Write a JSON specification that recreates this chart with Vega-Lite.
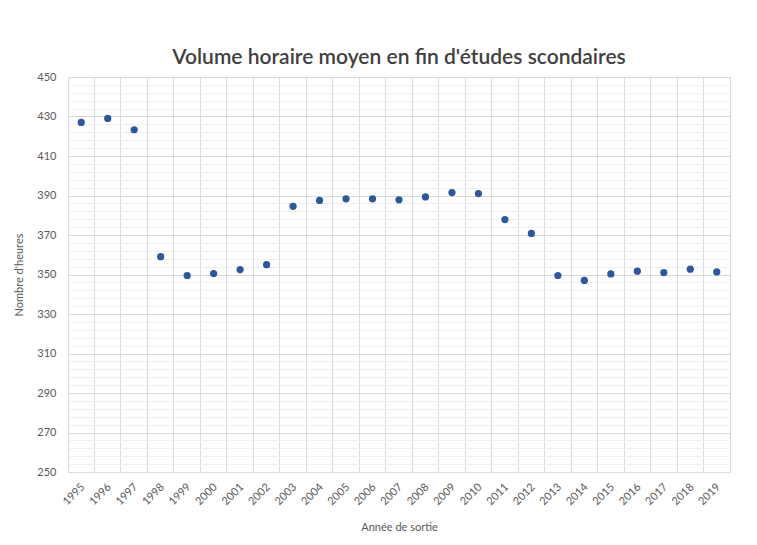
{
  "$schema": "https://vega.github.io/schema/vega-lite/v6.json",
  "autosize": "none",
  "width": 662,
  "height": 395,
  "padding": {"left": 68, "top": 77, "right": 27, "bottom": 73},
  "background": "#ffffff",
  "title": {
    "text": "Volume horaire moyen en fin d'études scondaires",
    "font": "Lato",
    "fontSize": 21,
    "fontWeight": 600,
    "color": "#404040",
    "anchor": "middle",
    "offset": 3
  },
  "config": {
    "view": {"stroke": "#d9d9d9", "strokeWidth": 1},
    "axis": {
      "labelFont": "Lato",
      "titleFont": "Lato",
      "labelColor": "#595959",
      "titleColor": "#595959",
      "labelFontSize": 11,
      "titleFontSize": 11,
      "titleFontWeight": "normal"
    }
  },
  "data": {
    "values": [
      {"annee": "1995", "heures": 427.0},
      {"annee": "1996", "heures": 429.0},
      {"annee": "1997", "heures": 423.3},
      {"annee": "1998", "heures": 359.0},
      {"annee": "1999", "heures": 349.5},
      {"annee": "2000", "heures": 350.5},
      {"annee": "2001", "heures": 352.5},
      {"annee": "2002", "heures": 355.0},
      {"annee": "2003", "heures": 384.5},
      {"annee": "2004", "heures": 387.5},
      {"annee": "2005", "heures": 388.3},
      {"annee": "2006", "heures": 388.3},
      {"annee": "2007", "heures": 387.8},
      {"annee": "2008", "heures": 389.3},
      {"annee": "2009", "heures": 391.5},
      {"annee": "2010", "heures": 391.0},
      {"annee": "2011", "heures": 377.8},
      {"annee": "2012", "heures": 370.8},
      {"annee": "2013", "heures": 349.5},
      {"annee": "2014", "heures": 347.0},
      {"annee": "2015", "heures": 350.3},
      {"annee": "2016", "heures": 351.7},
      {"annee": "2017", "heures": 351.0},
      {"annee": "2018", "heures": 352.7},
      {"annee": "2019", "heures": 351.3}
    ]
  },
  "layer": [
    {
      "mark": {"type": "point", "opacity": 0},
      "encoding": {
        "x": {"field": "annee", "type": "ordinal"},
        "y": {
          "field": "heures",
          "type": "quantitative",
          "axis": {
            "orient": "right",
            "values": [254,258,262,266,274,278,282,286,294,298,302,306,314,318,322,326,334,338,342,346,354,358,362,366,374,378,382,386,394,398,402,406,414,418,422,426,434,438,442,446],
            "grid": true,
            "gridColor": "#efefef",
            "labels": false,
            "ticks": false,
            "domain": false,
            "title": null
          }
        }
      }
    },
    {
      "mark": {"type": "circle", "size": 52, "color": "#2f579c", "opacity": 1},
      "encoding": {
        "x": {
          "field": "annee",
          "type": "ordinal",
          "scale": {"type": "band", "paddingInner": 0, "paddingOuter": 0},
          "axis": {
            "bandPosition": 0,
            "grid": true,
            "gridColor": "#d9d9d9",
            "ticks": false,
            "domain": true,
            "domainColor": "#d9d9d9",
            "labelAngle": -45,
            "labelAlign": "right",
            "labelBaseline": "middle",
            "labelPadding": 13,
            "labelOffset": 2,
            "title": "Année de sortie",
            "titlePadding": 15
          }
        },
        "y": {
          "field": "heures",
          "type": "quantitative",
          "scale": {"domain": [250, 450], "nice": false, "zero": false},
          "axis": {
            "values": [250,270,290,310,330,350,370,390,410,430,450],
            "grid": true,
            "gridColor": "#d9d9d9",
            "ticks": false,
            "domain": false,
            "labelPadding": 12,
            "title": "Nombre d'heures",
            "titlePadding": 12
          }
        }
      }
    }
  ],
  "resolve": {"axis": {"y": "independent"}}
}
